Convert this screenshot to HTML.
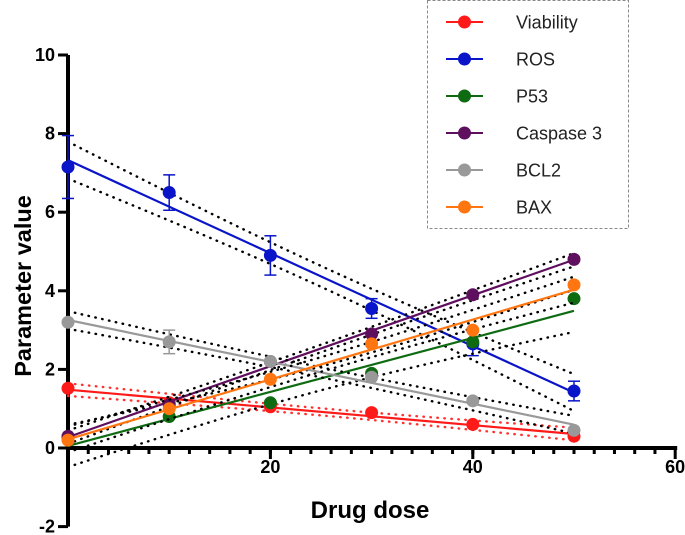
<!DOCTYPE html>
<html><head><meta charset="utf-8"><style>
body{margin:0;background:#fff;}
svg{display:block;font-family:"Liberation Sans",Arial,sans-serif;}
</style></head><body>
<svg id="chart" width="685" height="535" viewBox="0 0 685 535"></svg>
<script>
const doses = [0,10,20,30,40,50];
const seriesNames = ["Viability","ROS","P53","Caspase 3","BCL2","BAX"];
const seriesColors = ["#ff1a1a","#0a14c8","#0e6b12","#5e0f5e","#999999","#ff7510"];
const viability = [1.52,1.15,1.05,0.9,0.6,0.3];
const ros = [7.15,6.5,4.9,3.55,2.65,1.45];
const p53 = [0.28,0.8,1.15,1.9,2.7,3.8];
const caspase3 = [0.3,1.1,2.2,2.9,3.9,4.8];
const bcl2 = [3.2,2.7,2.2,1.8,1.2,0.45];
const bax = [0.2,1.0,1.75,2.65,3.0,4.15];
const errs = [[0.08,0.1,0.06,0.1,0.06,0.05],[0.8,0.45,0.5,0.25,0.3,0.25],[0.05,0.05,0.05,0.05,0.05,0.1],[0.05,0.05,0.05,0.05,0.05,0.1],[0.05,0.3,0.05,0.05,0.05,0.05],[0.05,0.05,0.05,0.1,0.1,0.05]];
const xTicks = [20,40,60];
const yTicks = [-2,0,2,4,6,8,10];
const allSeries = [viability,ros,p53,caspase3,bcl2,bax];

const NS="http://www.w3.org/2000/svg";
const svg=document.getElementById('chart');
const X=v=>68+v*10.12;
const Y=v=>448-v*39.3;
function el(t,a,p){const e=document.createElementNS(NS,t);for(const k in a)e.setAttribute(k,a[k]);(p||svg).appendChild(e);return e;}

let ax=el('g',{});


el('line',{x1:X(0),y1:Y(-2),x2:X(0),y2:Y(10),stroke:'#000','stroke-width':4},ax);
el('line',{x1:X(0)-2,y1:Y(0),x2:X(60)+2,y2:Y(0),stroke:'#000','stroke-width':4},ax);
for(let v=2;v<60;v+=2){el('line',{x1:X(v),y1:Y(0),x2:X(v),y2:Y(0)+6,stroke:'#000','stroke-width':3},ax);}
xTicks.forEach(v=>{
  el('line',{x1:X(v),y1:Y(0),x2:X(v),y2:Y(0)+11,stroke:'#000','stroke-width':3},ax);
  const t=el('text',{x:X(v),y:Y(0)+25,'text-anchor':'middle','font-size':18,'font-weight':'bold'},ax);t.textContent=v;
  
  
});
yTicks.forEach(v=>{
  el('line',{x1:X(0)-10,y1:Y(v),x2:X(0),y2:Y(v),stroke:'#000','stroke-width':3},ax);
  const t=el('text',{x:X(0)-13,y:Y(v)+6,'text-anchor':'end','font-size':18,'font-weight':'bold'},ax);t.textContent=v;
  
  
});
let yt=el('text',{x:0,y:0,transform:'translate(31,286) rotate(-90)','text-anchor':'middle','font-size':23.5,'font-weight':'bold'});
yt.textContent='Parameter value';


let xt=el('text',{x:370,y:518,'text-anchor':'middle','font-size':24,'font-weight':'bold'});
xt.textContent='Drug dose';



function fit(ys){const n=doses.length;const mx=doses.reduce((a,b)=>a+b)/n,my=ys.reduce((a,b)=>a+b)/n;let sxy=0,sxx=0;doses.forEach((x,i)=>{sxy+=(x-mx)*(ys[i]-my);sxx+=(x-mx)**2;});const b=sxy/sxx,a=my-b*mx;let sse=0;doses.forEach((x,i)=>{sse+=(ys[i]-a-b*x)**2;});const s=Math.sqrt(sse/(n-2));return{a,b,s,mx,sxx,n};}
allSeries.forEach((ys,si)=>{
  const g=el('g',{});
  
  
  const f=fit(ys);const col=seriesColors[si];
  const bandCol=si===0?'#ff3030':'#000';
  [-1,1].forEach(sg=>{
    let pts=[];for(let x=0;x<=50;x+=2){const se=f.s*Math.sqrt(1/f.n+(x-f.mx)**2/f.sxx)*2.78;pts.push(X(x)+','+Y(f.a+f.b*x+sg*se));}
    const b=el('polyline',{points:pts.join(' '),fill:'none',stroke:bandCol,'stroke-width':2.4,'stroke-dasharray':'0.5 6.5','stroke-linecap':'round'},g);
    
    
  });
  const l=el('line',{x1:X(0),y1:Y(f.a),x2:X(50),y2:Y(f.a+f.b*50),stroke:col,'stroke-width':2.2},g);
  
  
  ys.forEach((v,i)=>{
    const e=errs[si][i];
    if(e>0.15){el('line',{x1:X(doses[i]),y1:Y(v-e),x2:X(doses[i]),y2:Y(v+e),stroke:col,'stroke-width':1.5},g);
      [v-e,v+e].forEach(w=>el('line',{x1:X(doses[i])-6,y1:Y(w),x2:X(doses[i])+6,y2:Y(w),stroke:col,'stroke-width':1.5},g));}
    const c=el('circle',{cx:X(doses[i]),cy:Y(v),r:6.5,fill:col},g);
    
    
  });
});

const lg=el('g',{});


el('rect',{x:427.5,y:0.5,width:201,height:228,fill:'#fff',stroke:'#888','stroke-dasharray':'3 2'},lg);
seriesNames.forEach((n,i)=>{
  const y=22+i*37;
  const e=el('g',{},lg);
  
  
  el('line',{x1:446,y1:y,x2:483,y2:y,stroke:seriesColors[i],'stroke-width':2},e);
  el('circle',{cx:464.5,cy:y,r:6.5,fill:seriesColors[i]},e);
  const t=el('text',{x:516,y:y+6.5,'font-size':18,fill:'#222'},e);t.textContent=n;
});
</script>
</body></html>
